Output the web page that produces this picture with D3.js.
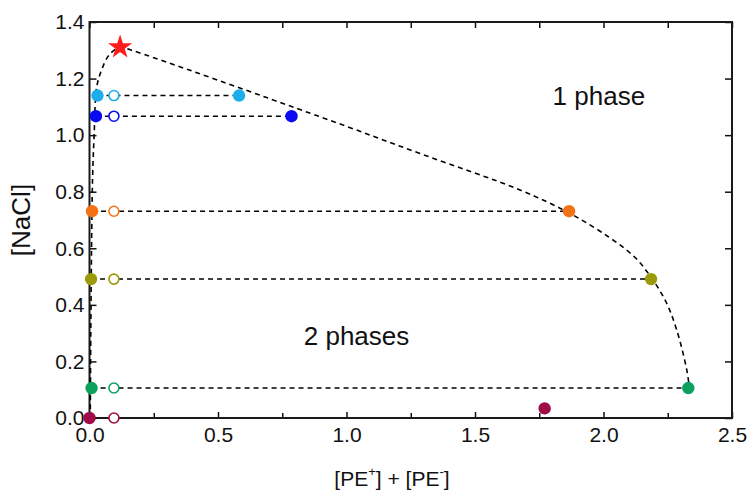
<!DOCTYPE html>
<html>
<head>
<meta charset="utf-8">
<script src="https://cdn.jsdelivr.net/npm/d3@7"></script>
<style>
  body { margin: 0; background: #fff; }
  text { font-family: "Liberation Sans", Arial, sans-serif; fill: #111; }
</style>
</head>
<body>
<div id="vis"></div>
<script>
// values
var series = ['cyan', 'blue', 'orange', 'olive', 'green', 'maroon'];
var colors = ['#1cadea', '#0a0af0', '#f47216', '#9c9a0a', '#0ba05c', '#a00a46'];
var leftPE = [0.031, 0.025, 0.010, 0.006, 0.008, 0.0];
var leftNaCl = [1.14, 1.067, 0.731, 0.491, 0.106, 0.0];
var rightPE = [0.582, 0.786, 1.866, 2.185, 2.33, 1.771];
var rightNaCl = [1.14, 1.067, 0.731, 0.491, 0.106, 0.034];
var openPE = [0.095, 0.095, 0.095, 0.095, 0.095, 0.095];
var hasTie = [true, true, true, true, true, false];

var binodalPE = [0.003, 0.005, 0.008, 0.012, 0.018, 0.028, 0.047, 0.076, 0.119, 0.164, 0.897, 1.286, 1.675, 1.87, 2.02, 2.12, 2.188, 2.246, 2.285, 2.324, 2.334];
var binodalNaCl = [0.0, 0.3, 0.6, 0.85, 1.0, 1.17, 1.23, 1.283, 1.311, 1.30, 1.065, 0.935, 0.806, 0.723, 0.64, 0.57, 0.494, 0.405, 0.311, 0.17, 0.108];

var criticalPE = 0.119, criticalNaCl = 1.311;

var xTicks = [0, 0.5, 1.0, 1.5, 2.0, 2.5];
var xMinor = [0.25, 0.75, 1.25, 1.75, 2.25];
var yTicks = [0, 0.2, 0.4, 0.6, 0.8, 1.0, 1.2, 1.4];

var width = 749, height = 493;
var margin = {left: 89.5, right: 17, top: 22, bottom: 75};
var drawWidth = width - margin.left - margin.right,
    drawHeight = height - margin.top - margin.bottom;

var svg = d3.select('#vis').append('svg')
            .attr('width', width)
            .attr('height', height);

var g = svg.append('g')
           .attr('transform', `translate(${margin.left},${margin.top})`);

var xScale = d3.scaleLinear().domain([0, 2.5]).range([0, drawWidth]);
var yScale = d3.scaleLinear().domain([0, 1.4]).range([drawHeight, 0]);

// axes, ticks pointing inward on all four sides
var fmt = d3.format('.1f');
g.append('g').attr('transform', `translate(0,${drawHeight})`)
 .call(d3.axisBottom(xScale).tickValues(xTicks).tickFormat(fmt).tickSizeInner(-6).tickSizeOuter(0).tickPadding(9));
g.append('g').attr('transform', `translate(0,${drawHeight})`)
 .call(d3.axisBottom(xScale).tickValues(xMinor).tickFormat('').tickSizeInner(-5).tickSizeOuter(0));
g.append('g')
 .call(d3.axisTop(xScale).tickValues(xTicks.concat(xMinor)).tickFormat('').tickSizeInner(-6).tickSizeOuter(0));
g.append('g')
 .call(d3.axisLeft(yScale).tickValues(yTicks).tickFormat(fmt).tickSizeInner(-7).tickSizeOuter(0).tickPadding(5));
g.append('g').attr('transform', `translate(${drawWidth},0)`)
 .call(d3.axisRight(yScale).tickValues(yTicks).tickFormat('').tickSizeInner(-7).tickSizeOuter(0));

g.selectAll('.domain').remove();
g.selectAll('.tick line').attr('stroke', '#111').attr('stroke-width', 1.5);
g.selectAll('.tick text').style('font-size', '21px')
 .style('font-family', '"Liberation Sans", Arial, sans-serif').attr('fill', '#111');

g.append('rect')
 .attr('width', drawWidth).attr('height', drawHeight)
 .attr('fill', 'none').attr('stroke', '#1a1a1a').attr('stroke-width', 2);

// binodal
var binodal = binodalPE.map((d, i) => [d, binodalNaCl[i]]);
var line = d3.line()
             .x((d) => xScale(d[0]))
             .y((d) => yScale(d[1]))
             .curve(d3.curveCatmullRom.alpha(0.5));
g.append('path')
 .datum(binodal)
 .attr('d', line)
 .attr('fill', 'none')
 .attr('stroke', '#000')
 .attr('stroke-width', 1.6)
 .attr('stroke-dasharray', '5,4');

// tie lines
var idx = series.map((d, i) => i);
g.selectAll('.tie')
 .data(idx.filter((i) => hasTie[i]))
 .enter().append('line')
 .attr('x1', (i) => xScale(leftPE[i]))
 .attr('x2', (i) => xScale(rightPE[i]))
 .attr('y1', (i) => yScale(leftNaCl[i]))
 .attr('y2', (i) => yScale(rightNaCl[i]))
 .attr('stroke', '#000')
 .attr('stroke-width', 1.5)
 .attr('stroke-dasharray', '5,4');

// open circles (overall compositions)
g.selectAll('.open')
 .data(idx).enter().append('circle')
 .attr('cx', (i) => xScale(openPE[i]))
 .attr('cy', (i) => yScale(leftNaCl[i]))
 .attr('r', 5)
 .attr('fill', '#fff')
 .attr('stroke', (i) => colors[i])
 .attr('stroke-width', 1.6);

// coexisting phases
g.selectAll('.left')
 .data(idx).enter().append('circle')
 .attr('cx', (i) => xScale(leftPE[i]))
 .attr('cy', (i) => yScale(leftNaCl[i]))
 .attr('r', 6.2)
 .attr('fill', (i) => colors[i]);
g.selectAll('.right')
 .data(idx).enter().append('circle')
 .attr('cx', (i) => xScale(rightPE[i]))
 .attr('cy', (i) => yScale(rightNaCl[i]))
 .attr('r', 6.2)
 .attr('fill', (i) => colors[i]);

// critical point
g.append('path')
 .attr('d', d3.symbol().type(d3.symbolStar).size(180)())
 .attr('transform', `translate(${xScale(criticalPE)},${yScale(criticalNaCl)})`)
 .attr('fill', '#ff1c1c');

// labels
g.append('text').attr('x', xScale(1.982)).attr('y', yScale(1.106))
 .attr('text-anchor', 'middle').style('font-size', '26px').text('1 phase');
g.append('text').attr('x', xScale(1.039)).attr('y', yScale(0.258))
 .attr('text-anchor', 'middle').style('font-size', '26px').text('2 phases');

svg.append('text')
   .attr('transform', `translate(30,220) rotate(-90)`)
   .attr('text-anchor', 'middle')
   .style('font-size', '26px')
   .text('[NaCl]');

var xt = svg.append('text')
            .attr('x', 392)
            .attr('y', 486)
            .attr('text-anchor', 'middle')
            .style('font-size', '21px');
xt.append('tspan').text('[PE');
xt.append('tspan').attr('dy', -10).style('font-size', '13px').text('+');
xt.append('tspan').attr('dy', 10).text('] + [PE');
xt.append('tspan').attr('dy', -10).style('font-size', '13px').text('-');
xt.append('tspan').attr('dy', 10).text(']');
</script>
</body>
</html>
